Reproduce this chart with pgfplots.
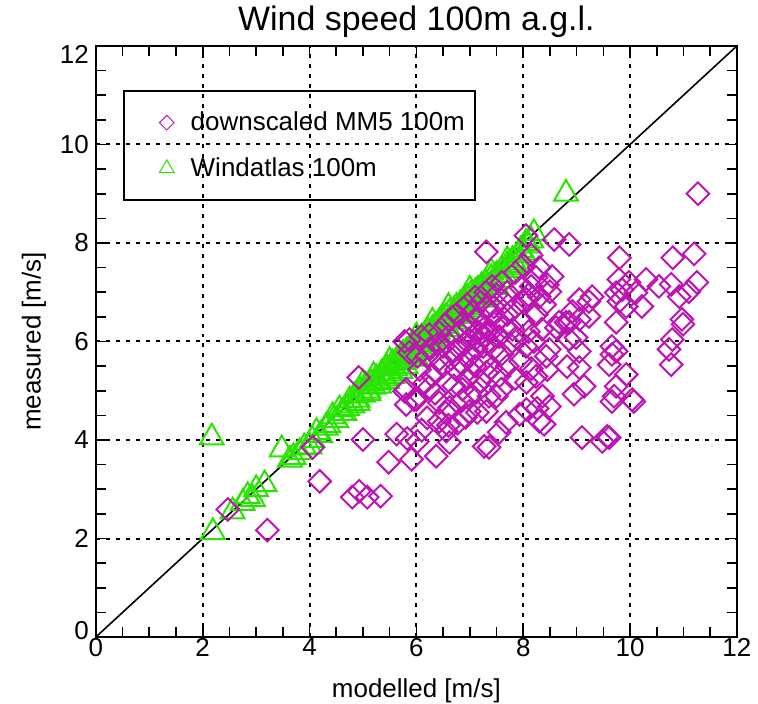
\documentclass[border=0pt]{standalone}
\usepackage{pgfplots}
\pgfplotsset{compat=1.18}
\usepackage{fontspec}
\setmainfont{Liberation Sans}
\definecolor{mmfive}{RGB}{190,20,180}
\definecolor{watlas}{RGB}{40,228,0}
\begin{document}
\begin{tikzpicture}
\begin{axis}[
  scale only axis, width=321pt, height=296pt,
  xmin=0, xmax=12, ymin=0, ymax=12,
  xtick={0,2,...,12}, ytick={0,2,...,12},
  yticklabels={,2,4,6,8,10,},
  minor x tick num=3, minor y tick num=3,
  tick align=inside, major tick length=5pt, minor tick length=5pt,
  tick style={black, line width=0.8pt},
  axis line style={line width=1pt},
  grid=major,
  major grid style={black, line width=1pt, dash pattern=on 2pt off 3pt},
  font=\fontsize{13}{15}\selectfont,
  /pgf/number format/assume math mode=true,
  xticklabel style={yshift=3pt},
  clip=false,
  title={Wind speed 100m a.g.l.},
  title style={font=\fontsize{17}{19}\selectfont, at={(axis description cs:0.5,1.0051)}, anchor=base, inner sep=0pt},
  xlabel={modelled [m/s]}, ylabel={measured [m/s]},
  xlabel style={at={(axis description cs:0.5,-0.102)}, anchor=base, inner sep=0pt},
  ylabel style={at={(axis description cs:-0.0966,0.5)}, anchor=center, inner sep=0pt},
  legend cell align=left,
  legend image code/.code={\path (0pt,-3pt) (27.5pt,3pt); \draw[#1] plot coordinates {(18pt,0pt)};},
  legend style={at={(axis cs:0.505,11.11)}, anchor=north west, draw=black,
    line width=1pt, fill=none, row sep=8pt, inner xsep=3pt, inner ysep=8.5pt,
    font=\fontsize{13}{15}\selectfont},
]
\addlegendimage{only marks, mark=square, mark size=2.6pt, mark options={rotate=45, draw=mmfive, line width=0.5pt}}
\addlegendentry{downscaled MM5 100m\hspace{4.5pt}}
\addlegendimage{only marks, mark=triangle, mark size=4.3pt, mark options={draw=watlas, line width=0.5pt}}
\addlegendentry{Windatlas 100m}
\addplot[black, line width=0.8pt, forget plot] coordinates {(0,0) (12,12)};
% Windatlas
\addplot[only marks, mark=triangle, mark size=6.9pt, mark options={draw=watlas, line width=1pt, fill=none}, forget plot] table {
x y
2.19 2.13
2.17 4.05
2.56 2.55
2.75 2.72
2.84 2.86
2.94 2.80
3.00 3.00
3.16 3.10
3.48 3.81
3.63 3.60
3.70 3.65
3.81 3.75
3.90 3.85
4.00 3.87
4.05 4.00
4.13 4.16
4.20 4.10
4.30 4.25
4.43 4.48
4.50 4.40
4.56 4.62
4.60 4.55
4.70 4.65
4.75 4.80
4.80 4.70
4.85 4.90
4.90 4.82
4.95 5.00
5.00 4.92
5.05 5.10
5.10 5.00
5.15 5.15
5.20 5.08
5.25 5.25
5.30 5.18
5.35 5.35
5.40 5.25
5.45 5.45
5.50 5.35
5.55 5.55
5.60 5.45
5.62 5.60
5.65 5.50
5.70 5.68
5.72 5.58
5.75 5.75
5.80 5.62
5.82 5.80
5.85 5.70
5.90 5.88
5.92 5.76
5.95 5.95
6.00 5.82
6.02 6.00
6.05 5.90
6.10 6.08
6.12 5.95
6.15 6.12
6.20 6.02
6.22 6.20
6.25 6.08
6.30 6.25
6.32 6.12
6.35 6.30
6.40 6.20
6.42 6.38
6.45 6.28
6.50 6.45
6.52 6.32
6.55 6.50
6.60 6.40
6.62 6.58
6.65 6.45
6.70 6.62
6.72 6.52
6.75 6.70
6.80 6.58
6.82 6.75
6.85 6.65
6.90 6.82
6.92 6.70
6.95 6.88
7.00 6.78
7.02 6.95
7.05 6.85
7.10 7.00
7.12 6.90
7.15 7.05
7.20 6.95
7.22 7.12
7.25 7.02
7.30 7.18
7.35 7.10
7.40 7.28
7.45 7.18
7.50 7.35
7.55 7.25
7.60 7.45
7.65 7.35
7.70 7.55
7.75 7.45
7.80 7.65
7.85 7.55
7.90 7.75
7.95 7.85
8.00 7.80
8.05 8.00
8.10 7.95
8.20 8.20
8.80 9.00
5.00 5.15
5.20 5.30
5.50 5.60
6.00 6.10
6.30 6.40
6.60 6.70
7.00 7.05
7.40 7.40
7.70 7.65
7.80 7.50
8.15 8.05
5.45 5.20
5.70 5.40
6.00 5.65
6.30 5.95
6.60 6.25
6.90 6.55
7.20 6.85
7.50 7.10
4.35 4.30
4.65 4.55
4.90 4.75
5.10 4.95
5.30 5.10
5.55 5.30
5.80 5.50
6.10 5.80
6.40 6.05
6.70 6.40
7.00 6.65
7.30 6.95
7.60 7.25
7.90 7.60
};
% downscaled MM5
\addplot[only marks, mark=square, mark size=4pt, mark options={rotate=45, draw=mmfive, line width=1pt, fill=none}, forget plot] table {
x y
2.47 2.59
3.21 2.17
4.19 3.16
4.80 2.84
4.93 2.96
5.08 2.84
5.33 2.86
5.00 4.01
4.92 5.27
5.48 3.55
5.63 4.12
5.91 3.61
6.02 3.97
5.83 4.03
6.37 3.67
6.62 3.95
7.27 3.87
7.36 3.85
5.78 4.99
5.81 4.72
6.00 4.82
6.24 5.07
6.43 4.76
6.62 4.66
6.99 4.58
7.31 4.58
6.56 5.17
6.86 5.03
7.12 4.97
7.36 4.89
6.75 5.43
7.05 5.37
7.31 5.37
6.06 5.43
6.19 5.70
6.43 5.64
6.43 4.38
6.56 4.18
6.60 4.30
6.77 4.34
6.92 4.46
7.14 4.56
7.55 4.16
7.68 4.36
7.93 4.52
8.26 4.64
8.30 4.38
8.39 4.32
8.06 4.62
8.49 4.68
8.36 4.89
8.06 5.17
7.59 5.03
7.50 4.89
8.45 5.43
8.82 5.49
9.05 5.47
8.95 4.93
9.14 5.09
9.66 4.78
10.07 4.78
9.74 5.09
9.61 5.53
9.93 5.33
10.77 5.53
10.73 5.84
9.10 4.05
9.48 3.97
9.61 4.05
8.24 5.29
8.43 5.70
8.49 5.84
8.62 6.28
8.80 6.39
8.86 6.04
9.05 5.80
9.74 5.80
9.66 5.74
9.66 5.90
8.99 6.08
9.05 6.45
9.23 6.51
8.92 6.61
8.86 6.39
8.67 6.39
9.05 6.85
9.29 6.91
9.23 6.81
8.30 6.91
8.06 6.85
8.50 7.01
8.15 7.12
8.24 7.30
8.54 7.32
9.79 7.26
9.74 6.99
9.85 7.05
9.98 7.20
10.11 6.99
10.30 7.26
10.22 6.71
9.79 6.81
9.93 6.71
9.74 6.39
10.54 7.12
10.77 7.16
10.92 6.91
11.10 7.01
10.97 6.45
10.79 6.04
10.99 6.35
11.25 7.20
11.20 7.78
10.80 7.70
9.80 7.70
11.27 9.00
8.58 8.07
8.86 7.97
8.05 8.15
7.31 7.82
7.42 7.12
7.31 6.71
6.67 6.49
6.43 6.18
6.24 6.14
6.09 6.10
5.87 6.04
10.04 4.82
9.70 4.89
9.57 4.07
6.50 5.90
6.60 6.10
6.70 5.80
6.80 6.20
6.90 5.95
7.00 6.30
7.10 6.05
7.20 6.15
7.25 5.90
7.30 6.30
7.35 6.00
7.40 6.20
7.45 5.85
7.50 6.40
7.15 6.45
7.05 6.60
6.95 6.75
7.20 6.80
7.40 6.55
7.55 6.10
7.60 5.75
7.65 6.30
7.70 6.55
7.75 5.95
7.80 6.25
7.85 6.70
7.90 6.05
7.95 5.60
8.00 6.40
8.05 5.90
8.10 6.20
8.15 5.45
8.20 6.00
7.00 5.70
6.85 5.55
6.65 5.65
6.55 6.35
6.75 6.55
6.90 6.40
7.10 6.90
7.30 7.00
7.50 6.95
7.60 7.20
7.70 7.00
7.85 7.40
7.95 7.10
8.00 6.80
7.65 6.80
7.45 6.70
7.25 5.60
7.10 5.50
6.95 5.25
7.40 5.45
7.55 5.30
7.70 5.50
7.85 5.25
7.20 6.00
7.15 6.20
7.28 6.10
7.05 6.10
6.98 6.05
7.33 6.22
7.12 5.85
6.80 5.85
8.25 6.55
8.35 6.25
8.40 6.75
8.45 7.15
8.30 7.50
8.00 7.55
8.15 7.75
8.10 6.95
4.06 3.85
5.78 6.00
5.87 5.78
6.02 5.70
5.81 5.03
5.96 4.82
6.30 5.30
6.35 4.95
6.50 5.50
6.70 5.10
6.20 4.45
6.10 4.20
6.40 5.95
6.55 4.55
6.85 4.80
7.00 4.90
7.20 5.20
6.25 5.85
6.15 5.15
};
\node[anchor=east, inner sep=0.333em] at (axis cs:0,11.82) {12};
\node[anchor=east, inner sep=0.333em] at (axis cs:0,0.14) {0};
\end{axis}
\path (current axis.south west) ++(-48pt,-33.5pt) rectangle ++(379pt,352.5pt);
\end{tikzpicture}
\end{document}
